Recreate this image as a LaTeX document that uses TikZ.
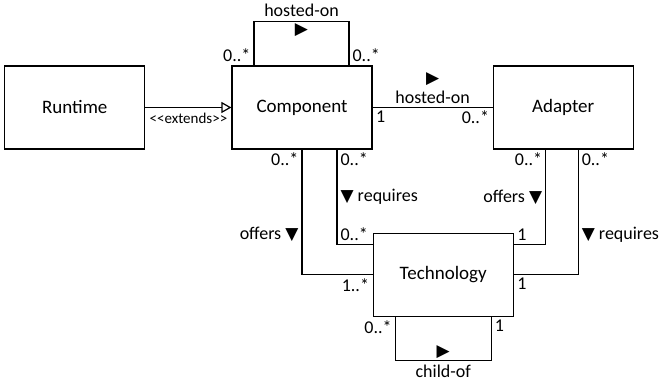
\documentclass[tikz,border=0pt]{standalone}
\usepackage{fontspec}
\setmainfont{Carlito}
\newfontfamily\trifont{DejaVu Sans}
\usepackage{tikz}
\usetikzlibrary{arrows.meta}
\usetikzlibrary{positioning}
\newcommand{\tridown}{{\trifont\fontsize{17}{17}\selectfont ▼}}
\newcommand{\triright}{{\trifont\fontsize{17}{17}\selectfont ▶}}
\tikzset{%
  umlclass/.style={draw=black, line width=1.2pt, minimum width=140pt, minimum height=83pt, font=\fontsize{19}{22}\selectfont},
  assoc/.style={draw=black, line width=1.2pt},
  extendsedge/.style={-{Triangle[open, length=10pt, width=11pt]}, line width=1.2pt},
  mult/.style={font=\fontsize{18}{20}\selectfont, inner sep=3pt},
  rolename/.style={font=\fontsize{18}{20}\selectfont, inner sep=3pt}
}

\begin{document}
\begin{tikzpicture}[x=1pt,y=1pt]
  \useasboundingbox (0,0) rectangle (666,385);
  \node[umlclass] (component) at (302,277.5) {Component};
  \node[umlclass, left=86pt of component] (runtime) {Runtime};
  \node[umlclass, right=120pt of component] (adapter) {Adapter};
  \node[umlclass, below right=83pt and 0pt of component] (technology) {Technology};
  % runtime extends component
  \draw[extendsedge] (runtime) -- (component)
    node[midway, below, font=\fontsize{15}{17}\selectfont, inner sep=5pt] (extlbl) {<\kern0pt<extends>\kern0pt>};
  % component hosted-on adapter
  \draw[assoc] (component) -- (adapter)
    node[pos=0, mult, anchor=north west] (m1) {1}
    node[pos=1, mult, anchor=north east] (m2) {0..*}
    node[midway, rolename, above] (hostlbl) {hosted-on};
  \node[above=0pt of hostlbl, inner sep=2pt] (hosttri) {\triright};
  % component hosted-on component
  \draw[assoc] ([xshift=-48pt]component.north) node[mult, anchor=south east] (m3) {0..*}
    -- ++(0,44) -| ([xshift=47pt]component.north) node[mult, anchor=south west] (m4) {0..*}
    node[pos=0.25, rolename, above, inner sep=4pt] (selflbl) {hosted-on}
    node[pos=0.25, below, inner sep=2pt] (selftri) {\triright};
  % component offers technology
  \draw[assoc] (component.south) node[mult, anchor=north east] (m5) {0..*}
    |- (technology.west) node[mult, anchor=north east] (m6) {1..*}
    node[pos=0.34, rolename, left] (offlbl1) {offers \tridown};
  % component requires technology
  \draw[assoc] ([xshift=35pt]component.south) node[mult, anchor=north west] (m7) {0..*}
    |- ([yshift=-12pt]technology.north west)
    node[pos=0.5, mult, anchor=south west] (m8) {0..*}
    node[pos=0.25, rolename, right] (reqlbl1) {\tridown{} requires};
  % adapter offers technology
  \draw[assoc] ([xshift=-17.5pt]adapter.south) node[mult, anchor=north east] (m9) {0..*}
    |- ([yshift=-12pt]technology.north east) node[mult, anchor=south west] (m10) {1}
    node[pos=0.25, rolename, left] (offlbl2) {offers \tridown};
  % adapter requires technology
  \draw[assoc] ([xshift=15pt]adapter.south) node[mult, anchor=north west] (m11) {0..*}
    |- (technology.east) node[mult, anchor=north west] (m12) {1}
    node[pos=0.34, rolename, right] (reqlbl2) {\tridown{} requires};
  % technology child-of technology
  \draw[assoc] ([xshift=-48pt]technology.south) node[mult, anchor=north east] (m13) {0..*}
    -- ++(0,-44) -| ([xshift=48pt]technology.south) node[mult, anchor=north west] (m14) {1}
    node[pos=0.25, rolename, below, inner sep=4pt] (childlbl) {child-of}
    node[pos=0.25, above, inner sep=2pt] (childtri) {\triright};
\end{tikzpicture}
\end{document}
